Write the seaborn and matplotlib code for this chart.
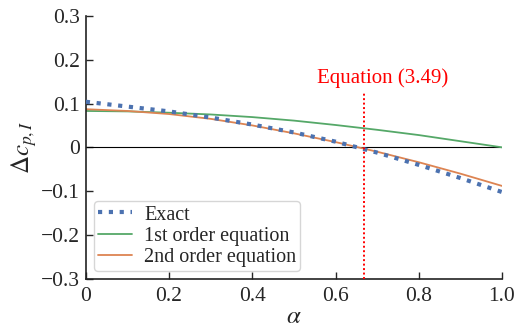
import matplotlib
matplotlib.use("Agg")
import matplotlib.pyplot as plt
import seaborn as sns
import pandas as pd

alpha = [0.0, 0.1, 0.2, 0.3, 0.4, 0.5, 0.6, 0.7, 0.8, 0.9, 1.0]
exact = [0.104, 0.093, 0.082, 0.068, 0.052, 0.034, 0.013, -0.012, -0.040, -0.070, -0.102]
first_order = [0.083, 0.082, 0.079, 0.075, 0.069, 0.061, 0.051, 0.040, 0.028, 0.014, 0.0]
second_order = [0.087, 0.083, 0.076, 0.065, 0.050, 0.032, 0.012, -0.010, -0.034, -0.060, -0.088]
alpha_eq = 0.668
xticks = [0, 0.2, 0.4, 0.6, 0.8, 1.0]
xticklabels = ["0", "0.2", "0.4", "0.6", "0.8", "1.0"]
yticks = [-0.3, -0.2, -0.1, 0, 0.1, 0.2, 0.3]
yticklabels = ["\u22120.3", "\u22120.2", "\u22120.1", "0", "0.1", "0.2", "0.3"]

sns.set_style("ticks")
plt.rcParams["font.family"] = ["Liberation Serif", "DejaVu Serif"]
plt.rcParams["mathtext.fontset"] = "stix"
plt.rcParams["xtick.direction"] = "in"
plt.rcParams["ytick.direction"] = "in"

pal = sns.color_palette("deep")
df = pd.DataFrame({"alpha": alpha, "exact": exact, "first": first_order, "second": second_order})

fig = plt.figure(figsize=(5.17, 3.30), dpi=100)
ax = fig.add_axes([0.166, 0.155, 0.805, 0.797])

ax.axhline(0, color="black", lw=0.8, zorder=1)
sns.lineplot(data=df, x="alpha", y="exact", ax=ax, color=pal[0], lw=3, ls=(0, (1, 1.6)), label="Exact", zorder=3)
sns.lineplot(data=df, x="alpha", y="first", ax=ax, color=pal[2], lw=1.3, label="1st order equation", zorder=2)
sns.lineplot(data=df, x="alpha", y="second", ax=ax, color=pal[1], lw=1.3, label="2nd order equation", zorder=2)
ax.plot([alpha_eq, alpha_eq], [-0.3, 0.125], color="red", lw=1.4, ls=(0, (1, 1.3)), zorder=4)
ax.text(alpha_eq + 0.044, 0.158, "Equation (3.49)", color="red", fontsize=15, ha="center", va="center")

ax.set_xlim(0, 1.0)
ax.set_ylim(-0.3, 0.3)
ax.set_xticks(xticks)
ax.set_xticklabels(xticklabels, fontsize=15.5)
ax.set_yticks(yticks)
ax.set_yticklabels(yticklabels, fontsize=15.5)
ax.tick_params(length=5, width=1)
ax.tick_params(axis="x", pad=6)
ax.tick_params(axis="y", pad=4.5)
ax.set_xlabel(r"$\alpha$", fontsize=18, labelpad=0)
ax.set_ylabel(r"$\Delta c_{p,I}$", fontsize=18, labelpad=1)
sns.despine(ax=ax)
for s in ["left", "bottom"]:
    ax.spines[s].set_linewidth(1.2)
    ax.spines[s].set_color("#222222")

ax.legend(loc="lower left", fontsize=14.5, frameon=True, handlelength=1.7,
          borderaxespad=0.4, labelspacing=0.1, borderpad=0.2, handletextpad=0.6)

fig.savefig("out.png", dpi=100)
